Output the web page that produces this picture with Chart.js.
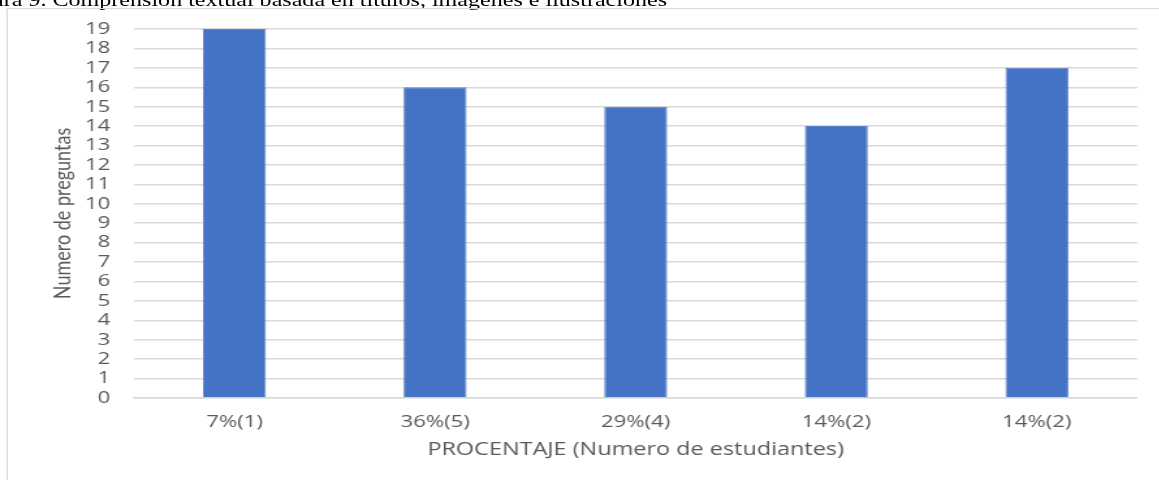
<!DOCTYPE html>
<html>
<head>
<meta charset="utf-8">
<script src="https://cdn.jsdelivr.net/npm/chart.js@4.4.0/dist/chart.umd.min.js"></script>
<style>
  html, body { margin: 0; padding: 0; background: #fff; overflow: hidden; }
  #page { position: absolute; left: 0; top: 0; width: 891.5px; height: 480px; transform: scaleX(1.3); transform-origin: 0 0; }
  #caption { position: absolute; left: -31px; top: -9.5px; font: 18.5px/18.5px "Liberation Serif", "Times New Roman", serif; color: #000; white-space: nowrap; }
  #frame { position: absolute; left: 4.6px; top: 8px; right: 0; bottom: -2px; border-top: 1.5px solid #d9d9d9; border-left: 1.5px solid #d9d9d9; }
  #box { position: absolute; left: 0; top: 8px; width: 891.5px; height: 472px; }
</style>
</head>
<body>
<div id="page">
  <div id="caption">Figura 9. Comprensión textual basada en títulos, imágenes e ilustraciones</div>
  <div id="frame"></div>
  <div id="box"><canvas id="chart"></canvas></div>
</div>
<script>
const categories = ["7%(1)", "36%(5)", "29%(4)", "14%(2)", "14%(2)"];
const preguntas = [19, 16, 15, 14, 17];
const yMax = 19;

const tickColor = "#595959";
const gridColor = "#d9d9d9";

document.addEventListener("DOMContentLoaded", function () {
  const ctx = document.getElementById("chart").getContext("2d");

  new Chart(ctx, {
    type: "bar",
    data: {
      labels: categories,
      datasets: [{
        label: "Numero de preguntas",
        data: preguntas,
        backgroundColor: "#4472c4",
        borderColor: "#5b84cc",
        borderWidth: 1,
        categoryPercentage: 1,
        barPercentage: 0.314
      }]
    },
    options: {
      responsive: true,
      maintainAspectRatio: false,
      animation: false,
      layout: {
        padding: { left: 33.7, right: 17.7, top: 21, bottom: 15.2 }
      },
      plugins: {
        legend: { display: false },
        tooltip: { enabled: false }
      },
      scales: {
        x: {
          grid: { display: false, drawTicks: false },
          border: { display: true, color: gridColor, width: 1.5 },
          ticks: {
            color: tickColor,
            padding: 14,
            font: { family: "'Open Sans'", size: 17 }
          },
          title: {
            display: true,
            text: "PROCENTAJE (Numero de estudiantes)",
            color: tickColor,
            font: { family: "'Open Sans'", size: 18 }
          },
          afterFit: function (scale) { scale.height = 66.8; }
        },
        y: {
          min: 0,
          max: yMax,
          // transparent tick marks stand in for the label gap
          grid: { color: gridColor, lineWidth: 1.5, drawTicks: true, tickLength: 18.5, tickColor: "transparent" },
          border: { display: false },
          ticks: {
            stepSize: 1,
            autoSkip: false,
            color: tickColor,
            padding: 0,
            font: { family: "'Open Sans'", size: 17 }
          },
          title: {
            display: true,
            text: "Numero de preguntas",
            color: tickColor,
            font: { family: "Lato", size: 18 }
          },
          afterFit: function (scale) { scale.width = 69.4; }
        }
      }
    }
  });
});
</script>
</body>
</html>
